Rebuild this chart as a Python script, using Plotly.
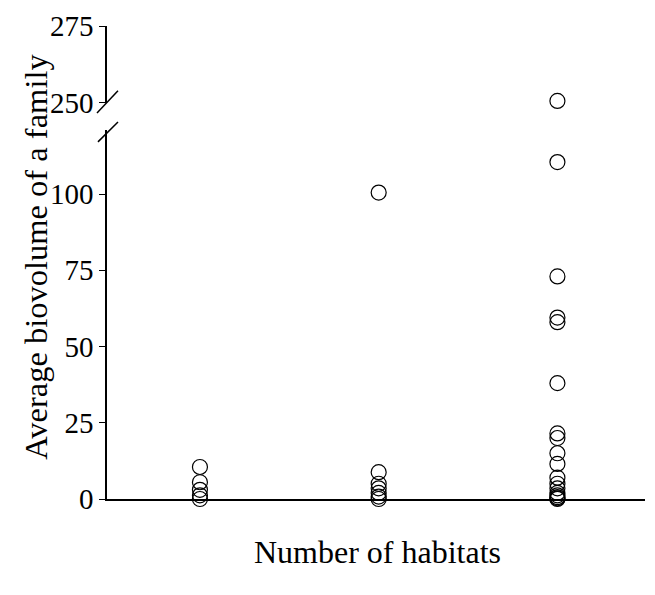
import plotly.graph_objects as go

# Data (number of habitats, average biovolume of a family)
habitats_1 = [1, 1, 1, 1, 1]
biovol_1 = [10.5, 5.5, 3.0, 1.2, 0.0]
habitats_2 = [2, 2, 2, 2, 2, 2, 2]
biovol_2 = [100.5, 8.8, 5.0, 3.5, 2.0, 0.8, 0.0]
habitats_3 = [3] * 18
biovol_3 = [250.5, 110.5, 73.0, 59.5, 58.0, 38.0, 21.5, 20.0, 15.0, 11.5,
            7.0, 5.0, 3.5, 2.0, 1.2, 0.6, 0.2, 0.0]

y_ticks_low = [0, 25, 50, 75, 100]
y_ticks_high = [250, 275]
BREAK_LOW, BREAK_HIGH = 121, 249.8

xs = habitats_1 + habitats_2 + habitats_3
ys = biovol_1 + biovol_2 + biovol_3
low_x = [x for x, y in zip(xs, ys) if y <= BREAK_LOW]
low_y = [y for y in ys if y <= BREAK_LOW]
high_x = [x for x, y in zip(xs, ys) if y > BREAK_LOW]
high_y = [y for y in ys if y > BREAK_LOW]

marker = dict(symbol="circle-open", size=15, color="black", line=dict(width=1.2, color="black"))
FONT = "Liberation Serif, Times New Roman, serif"

fig = go.Figure()
fig.add_trace(go.Scatter(x=low_x, y=low_y, mode="markers", marker=marker,
                         cliponaxis=False, xaxis="x", yaxis="y", showlegend=False))
fig.add_trace(go.Scatter(x=high_x, y=high_y, mode="markers", marker=marker,
                         cliponaxis=False, xaxis="x", yaxis="y2", showlegend=False))

yax_common = dict(ticks="outside", ticklen=6, tickwidth=1, tickcolor="black",
                  showgrid=False, zeroline=False, showline=True, linecolor="black",
                  linewidth=1.5, anchor="x", automargin=False,
                  tickfont=dict(size=29, family=FONT, color="black"))

fig.update_layout(
    width=655, height=595,
    margin=dict(l=99, r=18, t=18, b=104),
    paper_bgcolor="white", plot_bgcolor="white",
    font=dict(family=FONT, size=29, color="black"),
    xaxis=dict(range=[0.48, 3.49], showticklabels=False, ticks="", showgrid=False,
               zeroline=False, showline=True, linecolor="black", linewidth=2,
               anchor="y", automargin=False),
    yaxis=dict(domain=[0, 0.78], range=[0, BREAK_LOW], tickvals=y_ticks_low, **yax_common),
    yaxis2=dict(domain=[0.837, 1], range=[BREAK_HIGH, 275], tickvals=y_ticks_high, **yax_common),
)

# axis titles
fig.add_annotation(text="Average biovolume of a family", xref="paper", yref="paper",
                   x=-0.132, y=0.512, textangle=-90, showarrow=False,
                   font=dict(size=32.5, family=FONT, color="black"),
                   xanchor="center", yanchor="middle")
fig.add_annotation(text="Number of habitats", xref="paper", yref="paper",
                   x=0.502, y=-0.112, showarrow=False,
                   font=dict(size=32, family=FONT, color="black"),
                   xanchor="center", yanchor="middle")

# axis break marks
for (x0, y0, x1, y1) in [(-0.0186, 0.816, 0.0204, 0.863), (-0.0168, 0.755, 0.0204, 0.797)]:
    fig.add_shape(type="line", xref="paper", yref="paper", x0=x0, y0=y0, x1=x1, y1=y1,
                  line=dict(color="black", width=1.5))

fig.write_html("out.html")
